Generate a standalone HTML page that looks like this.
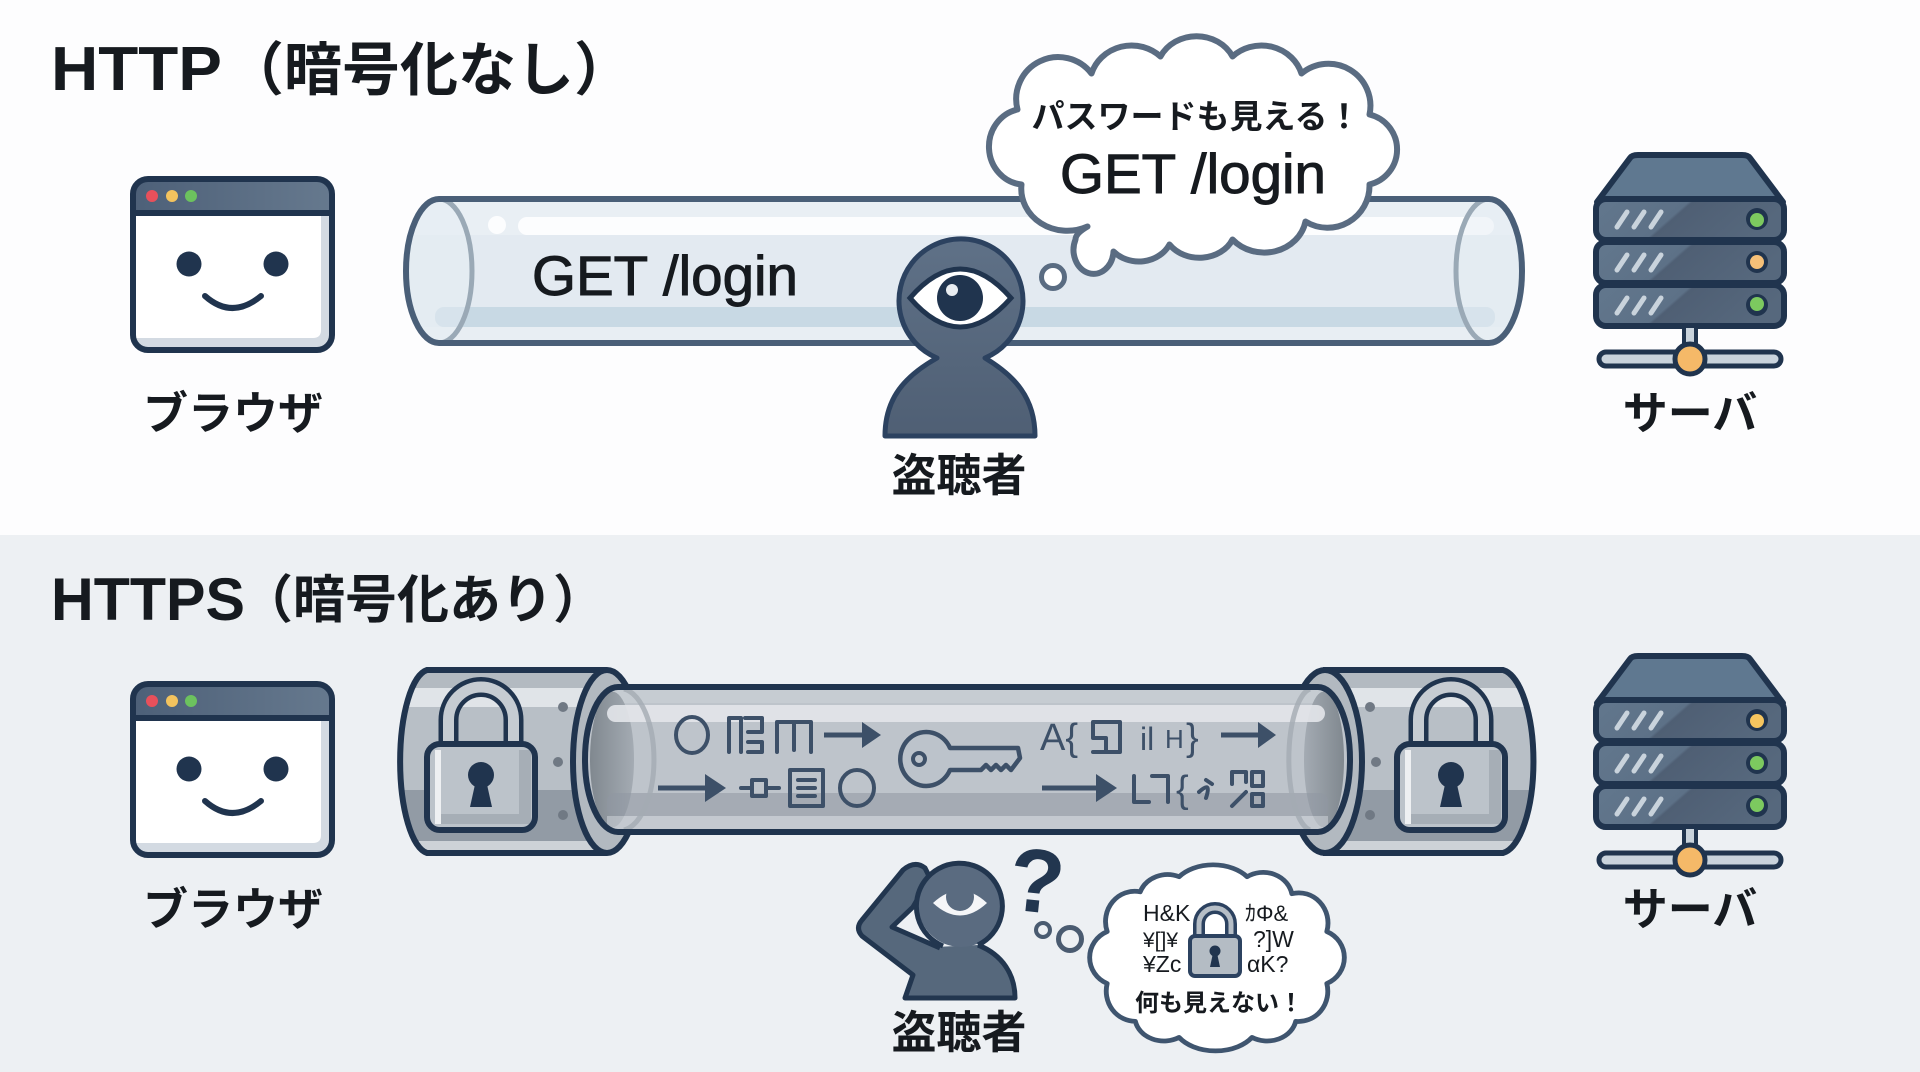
<!DOCTYPE html>
<html lang="ja">
<head>
<meta charset="utf-8">
<title>HTTP と HTTPS</title>
<style>
html,body{margin:0;padding:0;background:#fdfdfe;width:1920px;height:1072px;overflow:hidden}
svg{display:block}
text{font-family:"Liberation Sans","Noto Sans CJK JP",sans-serif;fill:#161a1f}
.jp{font-family:"Noto Sans CJK JP","Liberation Sans",sans-serif}
.lbl{font-family:"Noto Sans CJK JP",sans-serif;font-weight:700;font-size:45px;text-anchor:middle}
.g{fill:none;stroke:#3d5068;stroke-width:4;stroke-linecap:round;stroke-linejoin:round}
</style>
</head>
<body>
<svg width="1920" height="1072" viewBox="0 0 1920 1072" xmlns="http://www.w3.org/2000/svg">
<defs>
<linearGradient id="bar" x1="0" x2="1" y1="0" y2="0"><stop offset="0" stop-color="#4d6078"/><stop offset="1" stop-color="#66798e"/></linearGradient>
<linearGradient id="unit" x1="0" x2="1" y1="0" y2="0.25"><stop offset="0" stop-color="#62778d"/><stop offset=".48" stop-color="#5d7187"/><stop offset=".5" stop-color="#4f5f74"/><stop offset="1" stop-color="#56687d"/></linearGradient>
<linearGradient id="skin" x1="0" x2="0" y1="0" y2="1"><stop offset="0" stop-color="#5f7187"/><stop offset="1" stop-color="#4f5f74"/></linearGradient>
<linearGradient id="endL" x1="0" x2="1" y1="0" y2="0"><stop offset="0" stop-color="#80888f"/><stop offset="1" stop-color="#a4abb3"/></linearGradient>
<linearGradient id="endR" x1="1" x2="0" y1="0" y2="0"><stop offset="0" stop-color="#80888f"/><stop offset="1" stop-color="#a4abb3"/></linearGradient>
<clipPath id="pipeclip"><path d="M439 199H1489A33 72 0 0 1 1489 343H439A33 72 0 0 1 439 199Z"/></clipPath>
<clipPath id="lc"><path d="M607 670H427A30 92 0 0 0 427 853H607Z"/></clipPath>
<clipPath id="rc"><path d="M1323 670H1503A34 92 0 0 1 1503 853H1323Z"/></clipPath>
<clipPath id="tubeclip"><path d="M618 687H1318A32 72.500 0 0 1 1318 832H618A33 72.500 0 0 1 618 687Z"/></clipPath>

<g id="browser">
  <rect x="133" y="179" width="199" height="171" rx="15" fill="#fff"/>
  <path d="M321 213V330q0 8-8 8H136V338q0 12 12 12H320q12 0 12-12V213Z" fill="#d3dae2"/>
  <path d="M133 213V194q0-15 15-15H317q15 0 15 15V213Z" fill="url(#bar)"/>
  <rect x="133" y="179" width="199" height="171" rx="15" fill="none" stroke="#20344e" stroke-width="6"/>
  <line x1="133" y1="213" x2="332" y2="213" stroke="#20344e" stroke-width="6"/>
  <circle cx="152" cy="196" r="6" fill="#e8505b"/>
  <circle cx="172" cy="196" r="6" fill="#f3c35e"/>
  <circle cx="191" cy="196" r="6" fill="#6cc25e"/>
  <circle cx="189" cy="264" r="12.500" fill="#20344e"/>
  <circle cx="276" cy="264" r="12.500" fill="#20344e"/>
  <path d="M205 296Q232 320 261 296" fill="none" stroke="#20344e" stroke-width="6" stroke-linecap="round"/>
</g>

<g id="unitrow">
  <rect x="1596" y="0" width="188" height="41" rx="10" fill="url(#unit)" stroke="#20344e" stroke-width="6"/>
  <path d="M1617 28L1627 13M1634 28L1644 13M1651 28L1661 13" stroke="#c9d3dc" stroke-width="5" stroke-linecap="round"/>
  <circle cx="1757" cy="20" r="11" fill="#20344e"/>
</g>

<g id="server">
  <path d="M1597 202L1630 158Q1632 155 1638 155H1742Q1748 155 1750 158L1783 202Z" fill="#5f7890" stroke="#20344e" stroke-width="6" stroke-linejoin="round"/>
  <use href="#unitrow" y="199"/>
  <use href="#unitrow" y="242"/>
  <use href="#unitrow" y="285"/>
  <rect x="1684" y="326" width="12" height="22" fill="#c9d3dc" stroke="#20344e" stroke-width="4"/>
  <rect x="1599" y="352" width="182" height="14" rx="7" fill="#c9d3dc" stroke="#20344e" stroke-width="5"/>
  <circle cx="1690" cy="359" r="15" fill="#f5b968" stroke="#20344e" stroke-width="5"/>
</g>

<g id="lock">
  <path d="M-32.500 -34V-58A32.500 33 0 0 1 32.500 -58V-34" fill="none" stroke="#20344e" stroke-width="20"/>
  <path d="M-32.500 -34V-58A32.500 33 0 0 1 32.500 -58V-34" fill="none" stroke="#c6ccd2" stroke-width="11"/>
  <rect x="-54" y="-34" width="108" height="86" rx="13" fill="#bcc3ca"/>
  <rect x="38" y="-28" width="12" height="72" fill="#a6aeb6"/>
  <rect x="-46" y="36" width="96" height="10" fill="#a6aeb6"/>
  <rect x="-46" y="-28" width="6" height="74" fill="#eef0f2"/>
  <rect x="-54" y="-34" width="108" height="86" rx="13" fill="none" stroke="#20344e" stroke-width="6"/>
  <circle cx="0" cy="-3" r="13" fill="#20344e"/>
  <path d="M-5 2L-11 29H11L5 2Z" fill="#20344e"/>
</g>
</defs>

<!-- backgrounds -->
<rect x="0" y="0" width="1920" height="535" fill="#fdfdfe"/>
<rect x="0" y="535" width="1920" height="537" fill="#edf0f3"/>

<!-- titles -->
<text x="51" y="90" font-size="62" font-weight="700" textLength="171" lengthAdjust="spacingAndGlyphs">HTTP</text>
<text class="jp" x="226" y="90" font-size="58" font-weight="700">（暗号化なし）</text>
<text x="51" y="620" font-size="60" font-weight="700" textLength="194" lengthAdjust="spacingAndGlyphs">HTTPS</text>
<text class="jp" x="241" y="618" font-size="52" font-weight="700">（暗号化あり）</text>

<!-- top browser -->
<use href="#browser"/>
<text class="lbl" x="233" y="429">ブラウザ</text>

<!-- top pipe -->
<g clip-path="url(#pipeclip)">
  <rect x="400" y="195" width="1130" height="155" fill="#e3eaf1"/>
  <rect x="400" y="199" width="1130" height="36" fill="#e9eff4"/>
  <rect x="400" y="327" width="1130" height="20" fill="#e8eef3"/>
  <rect x="435" y="307" width="1060" height="20" rx="9" fill="#c8d9e4"/>
  <rect x="518" y="217" width="976" height="18" rx="9" fill="#fcfdfe"/>
  <circle cx="497" cy="225" r="9" fill="#fcfdfe"/>
</g>
<ellipse cx="439" cy="271" rx="33" ry="72" fill="#e6edf3" fill-opacity=".5" stroke="#9aa9b6" stroke-width="5"/>
<ellipse cx="1489" cy="271" rx="33" ry="72" fill="#e6edf3" fill-opacity=".5" stroke="#9aa9b6" stroke-width="5"/>
<path d="M439 199H1489A33 72 0 0 1 1489 343H439A33 72 0 0 1 439 199Z" fill="none" stroke="#4a5f78" stroke-width="6"/>
<text x="532" y="295" font-size="56" textLength="266" lengthAdjust="spacingAndGlyphs" stroke="#161a1f" stroke-width="1">GET /login</text>

<!-- top eavesdropper -->
<path d="M885 436C885 398 905 376 937 358A62 62 0 1 1 985 358C1015 376 1035 398 1035 436Z" fill="url(#skin)" stroke="#2c4260" stroke-width="5" stroke-linejoin="round"/>
<path d="M910 298Q960 240 1011 298Q960 356 910 298Z" fill="#fff" stroke="#20344e" stroke-width="5"/>
<circle cx="960" cy="298" r="23" fill="#20344e"/>
<circle cx="952" cy="290" r="6" fill="#e9edf1"/>
<text class="lbl" x="959" y="491">盗聴者</text>

<!-- top cloud -->
<circle cx="1053" cy="277" r="11.500" fill="#fff" stroke="#5a6c82" stroke-width="5"/>
<path transform="translate(2.500 1.500)" d="M1015 108A42 42 0 0 1 1089 72A42 40 0 0 1 1158 55A40 36 0 0 1 1230 55A42 40 0 0 1 1299 72A42 42 0 0 1 1367 113A36 36 0 0 1 1367 183A42 42 0 0 1 1303 220A42 38 0 0 1 1230 238A36 30 0 0 1 1167 243A34 30 0 0 1 1111 250A20 24 0 1 1 1073 238Q1073 232 1085 225A46 42 0 0 1 1019 183A36 38 0 0 1 1015 108Z" fill="#fff" stroke="#5a6c82" stroke-width="6" stroke-linejoin="round"/>
<text class="jp" x="1196" y="128" font-size="33" font-weight="700" text-anchor="middle">パスワードも見える！</text>
<text x="1060" y="193" font-size="56" textLength="266" lengthAdjust="spacingAndGlyphs" stroke="#161a1f" stroke-width="1">GET /login</text>

<!-- top server -->
<use href="#server"/>
<circle cx="1757" cy="220" r="7" fill="#7cc95f"/>
<circle cx="1757" cy="262" r="7" fill="#f5c078"/>
<circle cx="1757" cy="304" r="7" fill="#7cc95f"/>
<text class="lbl" x="1690" y="429">サーバ</text>

<!-- bottom browser -->
<use href="#browser" y="505"/>
<text class="lbl" x="233" y="925">ブラウザ</text>

<!-- left collar -->
<g clip-path="url(#lc)">
  <rect x="390" y="665" width="225" height="195" fill="#b8bfc6"/>
  <rect x="390" y="670" width="225" height="18" fill="#b3bac1"/>
  <rect x="390" y="688" width="225" height="19" fill="#e0e4e8"/>
  <rect x="390" y="790" width="225" height="51" fill="#929ba5"/>
  <rect x="390" y="841" width="225" height="10" fill="#cdd2d7"/>
</g>
<path d="M607 670H427A30 92 0 0 0 427 853H607" fill="none" stroke="#20344e" stroke-width="6"/>
<ellipse cx="607" cy="761.500" rx="34" ry="91.500" fill="#b2b9c0" stroke="#20344e" stroke-width="6"/>
<circle cx="563" cy="707" r="5" fill="#707984"/><circle cx="558" cy="762" r="5" fill="#707984"/><circle cx="563" cy="815" r="5" fill="#707984"/>

<!-- right collar -->
<g clip-path="url(#rc)">
  <rect x="1315" y="665" width="225" height="195" fill="#b8bfc6"/>
  <rect x="1315" y="670" width="225" height="18" fill="#b3bac1"/>
  <rect x="1315" y="688" width="225" height="19" fill="#e0e4e8"/>
  <rect x="1315" y="790" width="225" height="51" fill="#929ba5"/>
  <rect x="1315" y="841" width="225" height="10" fill="#cdd2d7"/>
</g>
<path d="M1323 670H1503A34 92 0 0 1 1503 853H1323" fill="none" stroke="#20344e" stroke-width="6"/>
<ellipse cx="1325" cy="761.500" rx="37" ry="91.500" fill="#b2b9c0" stroke="#20344e" stroke-width="6"/>
<circle cx="1370" cy="707" r="5" fill="#707984"/><circle cx="1376" cy="762" r="5" fill="#707984"/><circle cx="1370" cy="815" r="5" fill="#707984"/>

<!-- tube -->
<g clip-path="url(#tubeclip)">
  <rect x="580" y="685" width="780" height="150" fill="#bec4cb"/>
  <rect x="580" y="685" width="780" height="18" fill="#c6ccd2"/>
  <ellipse cx="612" cy="759.500" rx="22" ry="68" fill="url(#endL)"/>
  <ellipse cx="1324" cy="759.500" rx="20" ry="68" fill="url(#endR)"/>
  <rect x="607" y="793" width="721" height="23" rx="8" fill="#8f98a2" fill-opacity=".55"/>
  <rect x="607" y="816" width="721" height="16" fill="#c8cdd3" fill-opacity=".6"/>
  <rect x="607" y="705" width="718" height="17" rx="8.500" fill="#e3e6ea" fill-opacity=".9"/>
</g>
<path d="M624 689A34 71 0 0 1 624 830" fill="none" stroke="#a4abb3" stroke-width="5" stroke-opacity=".8"/>
<path d="M1310 689A24 71 0 0 0 1310 830" fill="none" stroke="#a4abb3" stroke-width="5" stroke-opacity=".8"/>
<path d="M618 687H1318A32 72.500 0 0 1 1318 832H618A33 72.500 0 0 1 618 687Z" fill="none" stroke="#20344e" stroke-width="6"/>

<!-- locks -->
<use href="#lock" x="481" y="778"/>
<use href="#lock" x="1451" y="778"/>

<!-- glyph row 1 -->
<ellipse class="g" cx="692" cy="735" rx="16" ry="18"/>
<path class="g" d="M729 752V718H741V752M745 718H762V732H748M748 742H762V752H748"/>
<path class="g" d="M777 752V722H811V752M794 722V750"/>
<path d="M824 735H866" stroke="#3d5068" stroke-width="5"/><path d="M862 722L881 735L862 748Z" fill="#3d5068"/>
<!-- glyph row 2 -->
<path d="M658 788H708" stroke="#3d5068" stroke-width="5"/><path d="M705 774L726 788L705 802Z" fill="#3d5068"/>
<path class="g" d="M741 788H752M752 780H766V796H752ZM766 788H779"/>
<rect class="g" x="790" y="770" width="33" height="36"/>
<path class="g" d="M798 780H815M798 788H815M798 796H815"/>
<ellipse class="g" cx="857" cy="788" rx="17" ry="18"/>
<!-- key -->
<path d="M950 748H1018L1020 758L1011 770L1006 765L1001 770L996 765L991 770L986 765L981 770H950A26 27 0 1 1 950 748Z" fill="#bcc3cb" stroke="#3d5068" stroke-width="4.500" stroke-linejoin="round"/>
<circle cx="919" cy="759" r="6" fill="none" stroke="#3d5068" stroke-width="4"/>
<!-- right glyphs -->
<text x="1040" y="750" font-size="38" style="fill:#3d5068">A{</text>
<path class="g" d="M1093 722H1120M1093 722V738H1106M1120 722V752H1093M1106 738V752"/>
<text x="1140" y="750" font-size="32" style="fill:#3d5068">il</text>
<text x="1165" y="748" font-size="26" style="fill:#3d5068">H</text>
<text x="1186" y="750" font-size="38" style="fill:#3d5068">}</text>
<path d="M1221 735H1262" stroke="#3d5068" stroke-width="5"/><path d="M1258 722L1276 735L1258 748Z" fill="#3d5068"/>
<path d="M1042 788H1100" stroke="#3d5068" stroke-width="5"/><path d="M1096 774L1117 788L1096 802Z" fill="#3d5068"/>
<path class="g" d="M1134 776V802H1149M1152 776H1168V802"/>
<text x="1176" y="802" font-size="38" style="fill:#3d5068">{</text>
<path class="g" d="M1199 792Q1212 780 1206 798M1206 780L1212 784"/>
<path class="g" d="M1232 772H1246V782M1232 772V784M1246 792L1232 806M1252 772H1263V786H1252ZM1252 794H1263V806H1252Z"/>

<!-- bottom eavesdropper -->
<path d="M905 998L913 975L862 936Q855 928 862 920L903 870Q915 860 925 868L930 878L913 907L892 927L935 947L978 945C1003 955 1015 975 1015 998Z" fill="#56687c"/>
<path d="M978 945C1003 955 1015 975 1015 998H905L913 975L862 936Q855 928 862 920L903 870Q915 860 925 868L930 878L913 907L892 927L940 948" fill="none" stroke="#22364f" stroke-width="5" stroke-linejoin="round"/>
<circle cx="961" cy="904" r="43" fill="#5a6b80"/>
<path d="M978 945A43 43 0 1 0 943 946" fill="none" stroke="#22364f" stroke-width="5"/>
<path d="M933 903Q960 878 987 903Q960 928 933 903Z" fill="#f5f6f8"/>
<ellipse cx="960" cy="897" rx="14" ry="14" fill="#5a6b80"/>
<text x="1037" y="912" font-size="90" font-weight="700" text-anchor="middle" transform="rotate(6 1037 880)" style="fill:#22364f">?</text>
<circle cx="1043" cy="930" r="7" fill="#edf0f3" stroke="#4a5b70" stroke-width="4"/>
<circle cx="1070" cy="939" r="11.500" fill="#edf0f3" stroke="#4a5b70" stroke-width="5"/>
<text class="lbl" x="959" y="1048">盗聴者</text>

<!-- bottom cloud -->
<path transform="translate(1217 958) scale(.972 .945) translate(-1219 -958)" d="M1106 930A30 32 0 0 1 1140 888A30 28 0 0 1 1180 872A44 32 0 0 1 1250 872A30 28 0 0 1 1296 890A30 32 0 0 1 1332 930A30 30 0 0 1 1332 985A30 32 0 0 1 1300 1025A30 26 0 0 1 1255 1042A44 30 0 0 1 1180 1042A30 26 0 0 1 1135 1025A30 32 0 0 1 1106 985A30 30 0 0 1 1106 930Z" fill="#fff" stroke="#3f556f" stroke-width="5" stroke-linejoin="round"/>
<path d="M1199 938V924a16 16 0 0 1 32 0V938" fill="none" stroke="#2c4260" stroke-width="12"/>
<path d="M1199 938V924a16 16 0 0 1 32 0V938" fill="none" stroke="#b6bec6" stroke-width="5"/>
<rect x="1190" y="936" width="50" height="40" rx="5" fill="#b4bcc4" stroke="#2c4260" stroke-width="4"/>
<circle cx="1215" cy="951" r="5.500" fill="#20344e"/><path d="M1213 953L1210 967H1220L1217 953Z" fill="#20344e"/>
<g font-size="23">
<text x="1143" y="921">H&amp;K</text>
<text x="1143" y="947" font-size="21">¥[]¥</text>
<text x="1143" y="972">¥Zc</text>
<text x="1245" y="921" font-size="22">ｶΦ&amp;</text>
<text x="1253" y="947">?]W</text>
<text x="1247" y="972">αK?</text>
</g>
<text class="jp" x="1219" y="1011" font-size="24" font-weight="700" text-anchor="middle">何も見えない！</text>

<!-- bottom server -->
<use href="#server" y="501"/>
<circle cx="1757" cy="721" r="7" fill="#f5c55f"/>
<circle cx="1757" cy="763" r="7" fill="#7cc95f"/>
<circle cx="1757" cy="805" r="7" fill="#7cc95f"/>
<text class="lbl" x="1690" y="925">サーバ</text>
</svg>
</body>
</html>
